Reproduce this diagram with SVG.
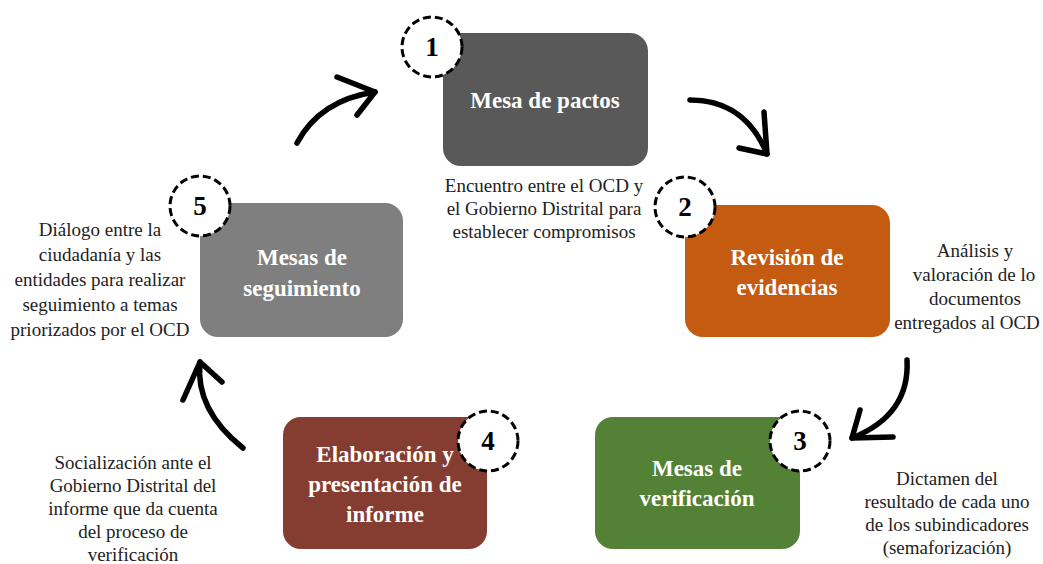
<svg xmlns="http://www.w3.org/2000/svg" width="1043" height="564" viewBox="0 0 1043 564">
<style>
  .box { stroke: none; }
  .lbl { font-family: "Liberation Serif", "Times New Roman", serif; font-weight: bold; font-size: 23px; fill: #ffffff; text-anchor: middle; }
  .num { font-family: "Liberation Serif", "Times New Roman", serif; font-weight: bold; font-size: 27px; fill: #000000; text-anchor: middle; }
  .badge { fill: #ffffff; stroke: #000000; stroke-width: 3; stroke-dasharray: 8 4; }
  .desc { font-family: "Liberation Serif", "Times New Roman", serif; font-size: 19px; fill: #222222; text-anchor: middle; }
  .arr { fill: none; stroke: #000000; stroke-width: 5.5; stroke-linecap: round; stroke-linejoin: round; }
</style>
<rect width="1043" height="564" fill="#ffffff"/>

<g id="connectors">
  <path class="arr" d="M297,143 Q320,100 375,92"/>
  <path class="arr" d="M337,77 L375,92 L357,115"/>
  <path class="arr" d="M690,100 Q745,100 767,154"/>
  <path class="arr" d="M739,148 L767,154 L764,112"/>
  <path class="arr" d="M907,360 Q910,415 852,438"/>
  <path class="arr" d="M860,410 L852,438 L893,437"/>
  <path class="arr" d="M243,448 Q195,410 200,362"/>
  <path class="arr" d="M183,400 L200,362 L222,382"/>
</g>

<g id="node1">
  <rect class="box" x="443" y="33" width="205" height="133" rx="18" fill="#595959"/>
  <text class="lbl" x="545" y="108">Mesa de pactos</text>
  <circle class="badge" cx="432" cy="47" r="30"/>
  <text class="num" x="432" y="56">1</text>
  <text class="desc" x="544"><tspan x="544" y="192">Encuentro entre el OCD y</tspan><tspan x="544" y="215">el Gobierno Distrital para</tspan><tspan x="544" y="238">establecer compromisos</tspan></text>
</g>

<g id="node2">
  <rect class="box" x="685" y="205" width="205" height="132" rx="18" fill="#C55A11"/>
  <text class="lbl" x="787"><tspan x="787" y="265">Revisión de</tspan><tspan x="787" y="295">evidencias</tspan></text>
  <circle class="badge" cx="685" cy="207" r="30"/>
  <text class="num" x="685" y="216">2</text>
  <text class="desc"><tspan x="975" y="257">Análisis y</tspan><tspan x="974" y="281">valoración de lo</tspan><tspan x="975" y="305">documentos</tspan><tspan x="967" y="329">entregados al OCD</tspan></text>
</g>

<g id="node3">
  <rect class="box" x="595" y="417" width="205" height="132" rx="18" fill="#538135"/>
  <text class="lbl"><tspan x="697" y="476">Mesas de</tspan><tspan x="697" y="506">verificación</tspan></text>
  <circle class="badge" cx="800" cy="441" r="30"/>
  <text class="num" x="800" y="450">3</text>
  <text class="desc"><tspan x="947" y="485">Dictamen del</tspan><tspan x="947" y="508">resultado de cada uno</tspan><tspan x="947" y="531">de los subindicadores</tspan><tspan x="947" y="554">(semaforización)</tspan></text>
</g>

<g id="node4">
  <rect class="box" x="283" y="417" width="204" height="132" rx="18" fill="#853C31"/>
  <text class="lbl"><tspan x="385" y="462">Elaboración y</tspan><tspan x="385" y="492">presentación de</tspan><tspan x="385" y="522">informe</tspan></text>
  <circle class="badge" cx="488" cy="441" r="30"/>
  <text class="num" x="488" y="450">4</text>
  <text class="desc"><tspan x="133" y="469">Socialización ante el</tspan><tspan x="133" y="492">Gobierno Distrital del</tspan><tspan x="133" y="515">informe que da cuenta</tspan><tspan x="133" y="538">del proceso de</tspan><tspan x="133" y="561">verificación</tspan></text>
</g>

<g id="node5">
  <rect class="box" x="200" y="203" width="203" height="134" rx="18" fill="#7F7F7F"/>
  <text class="lbl"><tspan x="302" y="265">Mesas de</tspan><tspan x="302" y="296">seguimiento</tspan></text>
  <circle class="badge" cx="200" cy="206" r="30"/>
  <text class="num" x="200" y="215">5</text>
  <text class="desc"><tspan x="100" y="236">Diálogo entre la</tspan><tspan x="100" y="261">ciudadanía y las</tspan><tspan x="100" y="286">entidades para realizar</tspan><tspan x="100" y="311">seguimiento a temas</tspan><tspan x="100" y="336">priorizados por el OCD</tspan></text>
</g>
</svg>
